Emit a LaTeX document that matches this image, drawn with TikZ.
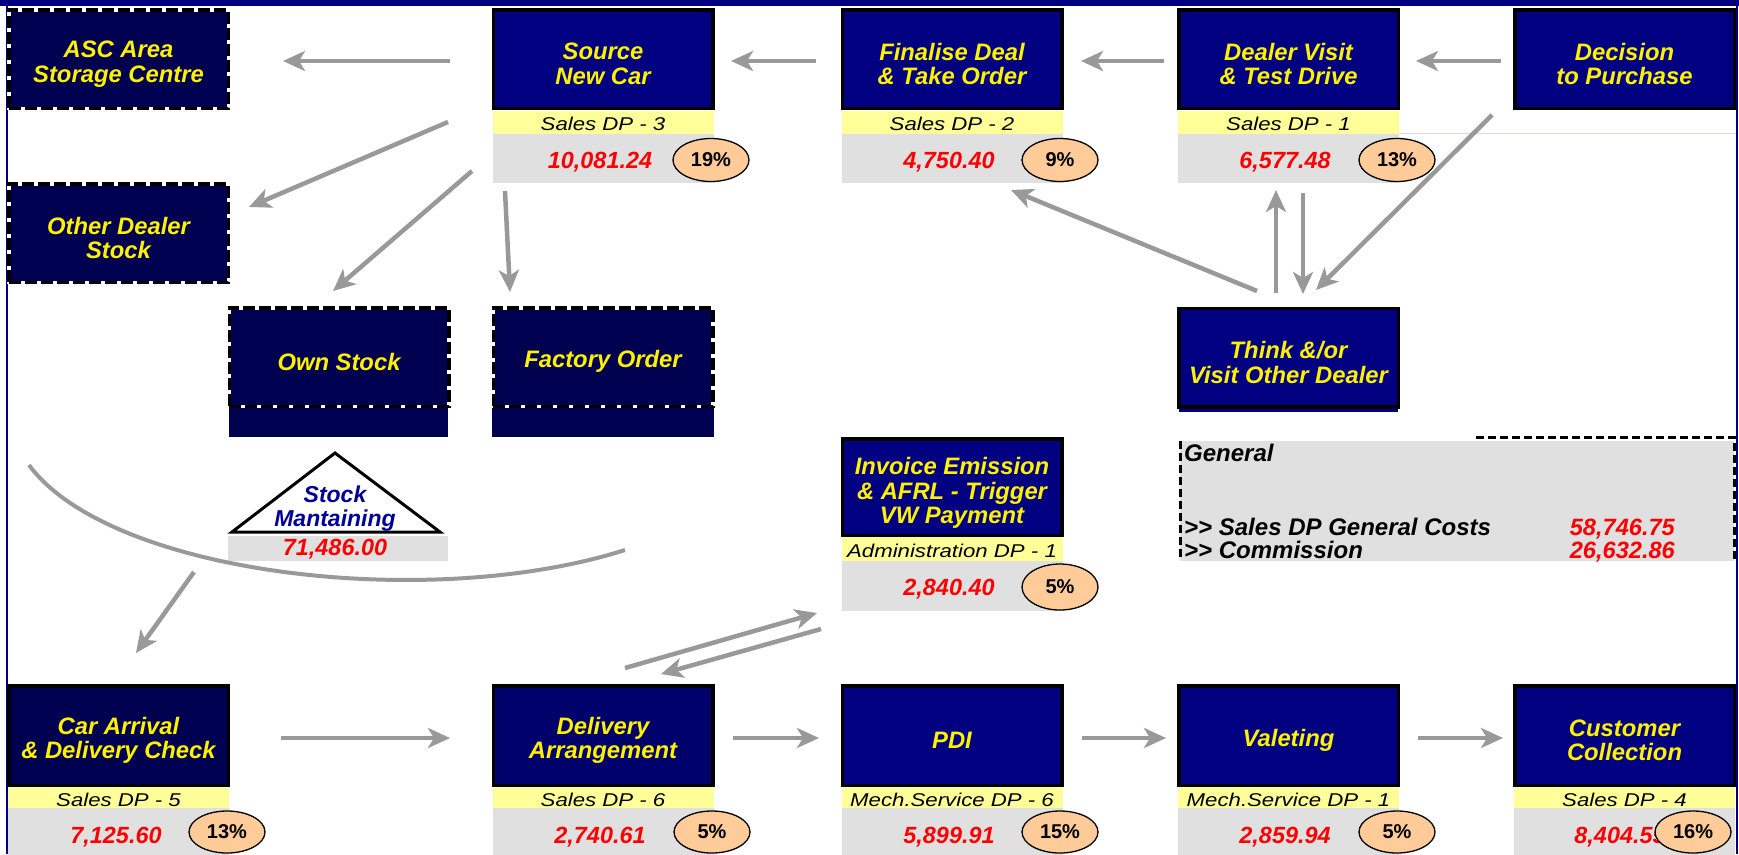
\documentclass[tikz,border=0pt]{standalone}
\usepackage{fontspec}
\setmainfont{Liberation Sans}
\newfontfamily\bandfont[FakeStretch=1.2]{Liberation Sans}
\usetikzlibrary{arrows.meta,calc,shapes.geometric}
\definecolor{navy}{HTML}{000080}
\definecolor{deepnavy}{HTML}{000050}
\definecolor{midnavy}{HTML}{00006C}
\definecolor{bandyellow}{HTML}{FFFF99}
\definecolor{bandgrey}{HTML}{E0E0E0}
\definecolor{pctfill}{HTML}{FFCC99}
\definecolor{flowgrey}{HTML}{999999}
\definecolor{labelblue}{HTML}{000099}
\definecolor{rulelav}{HTML}{D8D8F0}

\begin{document}
\begin{tikzpicture}[x=1pt,y=-1pt,
  stepbox/.style={draw=black, line width=3.5pt, fill=navy, minimum width=219.5pt,
    minimum height=98.5pt, inner sep=0pt},
  dashbox/.style={stepbox, fill=deepnavy, draw=white,
    postaction={draw=black, line width=3.5pt, dash pattern=on 12pt off 4pt}},
  boxtext/.style={inner sep=0pt, align=center, text=yellow,
    font=\fontsize{23.8}{24.5}\selectfont\bfseries\itshape},
  yband/.style={fill=bandyellow, minimum width=221pt, minimum height=23pt, inner sep=0pt,
    text height=17.5pt, text depth=0pt,
    font=\bandfont\fontsize{18.5}{18.5}\selectfont\itshape},
  gband/.style={fill=bandgrey, minimum width=221pt, minimum height=49.5pt, inner sep=0pt},
  val/.style={text=red, inner sep=0pt, font=\fontsize{23.4}{24}\selectfont\bfseries\itshape},
  pct/.style={ellipse, draw=black, line width=1.3pt, fill=pctfill, minimum width=76pt,
    minimum height=43pt, inner sep=0pt, font=\fontsize{20}{20}\selectfont\bfseries},
  gentext/.style={inner sep=0pt, font=\fontsize{24}{24}\selectfont\bfseries\itshape},
  genval/.style={inner sep=0pt, text=red, font=\fontsize{23.6}{23.6}\selectfont\bfseries\itshape},
  arr/.style={draw=flowgrey, line width=4.5pt, -{Stealth[length=22pt,width=20pt,inset=6pt]}},
]
\useasboundingbox (0,0) rectangle (1739,854);
\clip (0,0) rectangle (1739,854);

% page frame
\fill[navy] (0,0) rectangle (1739,6);
\draw[navy, line width=2pt] (7,0) -- (7,854);
\draw[navy, line width=2pt] (1737,0) -- (1737,854);
\draw[rulelav, line width=1pt] (1399,133) -- (1736,133);

% ---------- top row ----------
\node[dashbox] (asc) at (118.5,59) {};
\node[boxtext] (ascT) at ([yshift=-5pt]asc.center) {ASC Area\\Storage Centre};

\node[stepbox] (src) at (603,59) {};
\node[boxtext] (srcT) at ([yshift=-5pt]src.center) {Source\\New Car};
\node[yband] (srcY) at (603,122) {Sales DP - 3};
\node[gband] (srcG) at (603,158.25) {};
\node[val] (srcV) at (600,162) {10,081.24};
\node[pct] (srcP) at (711,160) {19\%};

\node[stepbox] (fin) at (952,59) {};
\node[boxtext] (finT) at ([yshift=-5pt]fin.center) {Finalise Deal\\\& Take Order};
\node[yband] (finY) at (952,122) {Sales DP - 2};
\node[gband] (finG) at (952,158.25) {};
\node[val] (finV) at (949,162) {4,750.40};
\node[pct] (finP) at (1060,160) {9\%};

\node[stepbox] (dlr) at (1288.5,59) {};
\node[boxtext] (dlrT) at ([yshift=-5pt]dlr.center) {Dealer Visit\\\& Test Drive};
\node[yband] (dlrY) at (1288.5,122) {Sales DP - 1};
\node[gband] (dlrG) at (1288.5,158.25) {};
\node[val] (dlrV) at (1285,162) {6,577.48};
\node[pct] (dlrP) at (1397,160) {13\%};

\node[stepbox] (dec) at (1624.5,59) {};
\node[boxtext] (decT) at ([yshift=-5pt]dec.center) {Decision\\to Purchase};

% ---------- sourcing options ----------
\node[dashbox] (ods) at (118.5,233) {};
\node[boxtext] (odsT) at ([yshift=-5pt]ods.center) {Other Dealer\\Stock};

\fill[deepnavy] (229,405) rectangle (448,437);
\node[dashbox] (own) at (339,357) {};
\node[boxtext] (ownT) at ([yshift=-4.5pt]own.center) {Own Stock};
\fill[deepnavy] (492,405) rectangle (714,437);
\node[dashbox] (fac) at (603,357) {};
\node[boxtext] (facT) at ([yshift=-4.5pt]fac.center) {Factory Order};

\fill[navy] (1179,405) rectangle (1398,412);
\node[stepbox] (thk) at (1288.5,357.5) {};
\node[boxtext] (thkT) at ([yshift=-5pt]thk.center) {Think \&/or\\Visit Other Dealer};

% stock maintaining marker
\draw[line width=3pt, fill=white, line join=miter] (335,453) -- (440,532) -- (232,532) -- cycle;
\node[inner sep=0pt, align=center, text=labelblue,
  font=\fontsize{23}{24}\selectfont\bfseries\itshape] (stk) at (335,509) {Stock\\Mantaining};
\node[gband, minimum width=220pt, minimum height=25pt] (stkG) at (338,548.5) {};
\node[val] (stkV) at (335,549) {71,486.00};

% ---------- invoice ----------
\node[stepbox, minimum height=96.5pt] (inv) at (952,487) {};
\node[boxtext] (invT) at ([yshift=-6pt]inv.center) {Invoice Emission\\\& AFRL - Trigger\\VW Payment};
\node[yband, minimum height=24pt] (invY) at (952,549) {Administration DP - 1};
\node[gband, minimum height=50pt] (invG) at (952,586) {};
\node[val] (invV) at (949,589) {2,840.40};
\node[pct, minimum height=46pt] (invP) at (1060,587) {5\%};

% ---------- general costs ----------
\fill[bandgrey] (1180,441) rectangle (1734,561);
\draw[black, line width=3pt, dash pattern=on 8pt off 4pt] (1476,437) -- (1734,437) -- (1734,561);
\draw[black, line width=3pt, dash pattern=on 8pt off 4pt] (1180,441) -- (1180,558);
\node[gentext, anchor=base west] (gen) at (1184,461) {General};
\node[gentext, anchor=base west] (genA) at (1184,535) {>\kern0pt> Sales DP General Costs};
\node[gentext, anchor=base west] (genB) at (1184,558) {>\kern0pt> Commission};
\node[genval, anchor=base east] (genAv) at (1675,535) {58,746.75};
\node[genval, anchor=base east] (genBv) at (1675,558) {26,632.86};

% ---------- bottom row ----------
\node[stepbox, fill=deepnavy, minimum height=99.5pt] (car) at (118.5,735.5) {};
\node[boxtext] (carT) at ([yshift=-5pt]car.center) {Car Arrival\\\& Delivery Check};
\node[yband, minimum height=21pt] (carY) at (118.5,797.5) {Sales DP - 5};
\node[gband, minimum height=49pt] (carG) at (118.5,832.5) {};
\node[val] (carV) at (116,837) {7,125.60};
\node[pct, minimum height=42pt] (carP) at (227,832) {13\%};

\node[stepbox, fill=midnavy, minimum height=99.5pt] (del) at (603,735.5) {};
\node[boxtext] (delT) at ([yshift=-5pt]del.center) {Delivery\\Arrangement};
\node[yband, minimum height=21pt] (delY) at (603,797.5) {Sales DP - 6};
\node[gband, minimum height=49pt] (delG) at (603,832.5) {};
\node[val] (delV) at (600,837) {2,740.61};
\node[pct, minimum height=42pt] (delP) at (712,832) {5\%};

\node[stepbox, minimum height=99.5pt] (pdi) at (952,735.5) {};
\node[boxtext] (pdiT) at ([yshift=-4.5pt]pdi.center) {PDI};
\node[yband, minimum height=21pt] (pdiY) at (952,797.5) {Mech.Service DP - 6};
\node[gband, minimum height=49pt] (pdiG) at (952,832.5) {};
\node[val] (pdiV) at (949,837) {5,899.91};
\node[pct, minimum height=42pt] (pdiP) at (1060,832) {15\%};

\node[stepbox, minimum height=99.5pt] (vlt) at (1288.5,735.5) {};
\node[boxtext] (vltT) at ([yshift=-4.5pt]vlt.center) {Valeting};
\node[yband, minimum height=21pt] (vltY) at (1288.5,797.5) {Mech.Service DP - 1};
\node[gband, minimum height=49pt] (vltG) at (1288.5,832.5) {};
\node[val] (vltV) at (1285,837) {2,859.94};
\node[pct, minimum height=42pt] (vltP) at (1397,832) {5\%};

\node[stepbox, minimum height=99.5pt] (cus) at (1624.5,735.5) {};
\node[boxtext] (cusT) at ([yshift=-5pt]cus.center) {Customer\\Collection};
\node[yband, minimum height=21pt] (cusY) at (1624.5,797.5) {Sales DP - 4};
\node[gband, minimum height=49pt] (cusG) at (1624.5,832.5) {};
\node[val] (cusV) at (1620,837) {8,404.55};
\node[pct, minimum height=42pt] (cusP) at (1693,832) {16\%};

% ---------- flow connectors ----------
\coordinate (a1s) at (450,61);   \coordinate (a1e) at (283,61);
\coordinate (a2s) at (448,122);  \coordinate (a2e) at (249,207);
\coordinate (a3s) at (472,171);  \coordinate (a3e) at (333,291);
\coordinate (a4s) at (505,191);  \coordinate (a4e) at (510,292);
\coordinate (a5s) at (816,61);   \coordinate (a5e) at (731,61);
\coordinate (a6s) at (1164,61);  \coordinate (a6e) at (1081,61);
\coordinate (a7s) at (1501,61);  \coordinate (a7e) at (1416,61);
\coordinate (a8s) at (1492,115); \coordinate (a8e) at (1316,290);
\coordinate (a9s) at (1276,293); \coordinate (a9e) at (1276,190);
\coordinate (a10s) at (1303,193); \coordinate (a10e) at (1303,294);
\coordinate (a11s) at (1257,291); \coordinate (a11e) at (1011,190);
\coordinate (a12s) at (194,572); \coordinate (a12e) at (136,653);
\coordinate (a13s) at (281,738); \coordinate (a13e) at (450,738);
\coordinate (a14s) at (733,738); \coordinate (a14e) at (819,738);
\coordinate (a15s) at (1082,738); \coordinate (a15e) at (1166,738);
\coordinate (a16s) at (1418,738); \coordinate (a16e) at (1503,738);
\coordinate (a17s) at (625,668); \coordinate (a17e) at (817,613);
\coordinate (a18s) at (821,629); \coordinate (a18e) at (661,674);
\coordinate (arcA) at (29,465);  \coordinate (arcB) at (625,550);

\foreach \k in {1,...,18} \draw[arr] (a\k s) -- (a\k e);
\draw[flowgrey, line width=4pt] (arcA) .. controls (110,575) and (430,612) .. (arcB);

\end{tikzpicture}
\end{document}
